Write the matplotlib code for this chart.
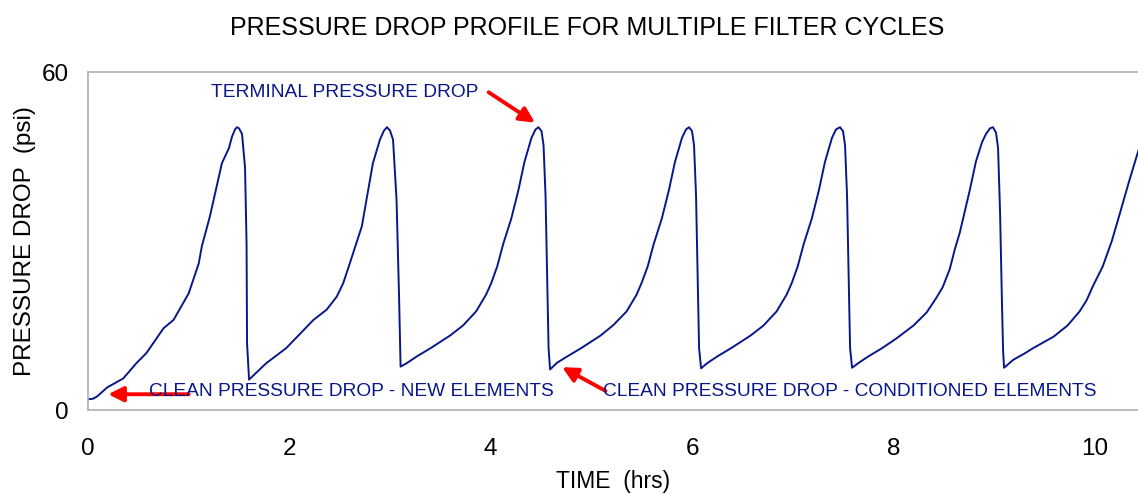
"""Pressure drop profile for multiple filter cycles."""

import matplotlib
matplotlib.use('Agg')
from matplotlib import pyplot as plt

plt.rcParams['font.family'] = ['Liberation Sans', 'DejaVu Sans']

NAVY = '#08178a'

time_hrs = [
    0.00, 0.05, 0.09, 0.19, 0.35, 0.48, 0.58, 0.75, 0.85, 1.00, 1.10, 1.13,
    1.21, 1.33, 1.40, 1.43, 1.46, 1.48, 1.50, 1.53, 1.56, 1.575, 1.58, 1.60,
    1.77, 1.97, 2.24, 2.37, 2.47, 2.535, 2.60, 2.72, 2.83, 2.90, 2.94, 2.97,
    3.00, 3.03, 3.065, 3.09, 3.10, 3.105,
    3.165, 3.265, 3.405, 3.595, 3.725, 3.855, 3.955, 4.005, 4.065, 4.125,
    4.205, 4.275, 4.335, 4.405, 4.445, 4.475, 4.505, 4.525, 4.545, 4.565,
    4.575, 4.59,
    4.66, 4.76, 4.90, 5.09, 5.22, 5.35, 5.45, 5.50, 5.56, 5.62, 5.70, 5.77,
    5.83, 5.90, 5.94, 5.97, 6.00, 6.02, 6.04, 6.06, 6.07, 6.09,
    6.15, 6.25, 6.39, 6.58, 6.71, 6.84, 6.94, 6.99, 7.05, 7.11, 7.19, 7.26,
    7.32, 7.39, 7.43, 7.47, 7.50, 7.52, 7.54, 7.56, 7.57, 7.59,
    7.65, 7.75, 7.89, 8.03, 8.20, 8.33, 8.43, 8.49, 8.56, 8.61, 8.66, 8.76,
    8.82, 8.88, 8.92, 8.96, 8.99, 9.02, 9.04, 9.06, 9.08, 9.09, 9.10,
    9.19, 9.30, 9.39, 9.59, 9.73, 9.85, 9.92, 9.98, 10.08, 10.17, 10.25,
    10.34, 10.45,
]
pressure_psi = [
    1.9, 2.0, 2.4, 4.0, 5.6, 8.3, 10.1, 14.5, 16.0, 20.7, 26.0, 29.0,
    34.3, 43.8, 46.5, 48.5, 49.8, 50.2, 50.0, 49.0, 43.0, 29.6, 11.8, 5.4,
    8.3, 11.0, 16.0, 17.8, 20.1, 22.5, 26.0, 32.6, 43.8, 48.0, 49.6, 50.2,
    49.6, 48.0, 37.3, 20.0, 11.2, 7.7,
    8.3, 9.5, 11.0, 13.2, 15.0, 17.5, 20.5, 22.5, 25.5, 29.5,
    34.0, 39.0, 44.0, 48.3, 49.8, 50.2, 49.5, 47.0, 38.0, 20.0,
    11.0, 7.2,
    8.4, 9.5, 11.0, 13.2, 15.1, 17.5, 20.5, 22.6, 25.5, 29.5, 34.0, 39.0,
    44.0, 48.3, 49.8, 50.2, 49.5, 47.0, 38.0, 20.0, 11.0, 7.4,
    8.3, 9.5, 11.0, 13.2, 15.0, 17.5, 20.5, 22.5, 25.5, 29.5, 34.0, 39.0,
    44.0, 48.3, 49.8, 50.2, 49.5, 47.0, 38.0, 20.0, 11.0, 7.5,
    8.3, 9.5, 11.0, 12.7, 15.0, 17.3, 20.0, 21.8, 25.0, 28.5, 31.5, 39.1,
    44.1, 47.5, 49.0, 50.0, 50.2, 49.2, 46.5, 35.0, 18.0, 10.5, 7.5,
    8.9, 10.0, 11.0, 13.0, 15.0, 17.5, 19.5, 21.9, 25.5, 30.0, 34.9,
    40.5, 47.0,
]

x_ticks = [0, 2, 4, 6, 8, 10]
y_ticks = [0, 60]


def plot_profile():
    """Draw the pressure drop curve with annotations."""
    fig = plt.figure(figsize=(11.38, 4.94), dpi=100)
    ax = fig.add_axes([88 / 1138, 84 / 494, 1 - 88 / 1138, 338 / 494])
    ax.plot(time_hrs, pressure_psi, color=NAVY, lw=1.4)
    ax.set_xlim(0, 10.43)
    ax.set_ylim(0, 60)
    ax.set_xticks(x_ticks)
    ax.set_yticks(y_ticks)
    ax.tick_params(labelsize=17.5, length=0)
    ax.tick_params(axis='x', pad=20)
    ax.tick_params(axis='y', pad=14)
    for side in ('top', 'left', 'bottom'):
        ax.spines[side].set_color('#b0b0b0')
        ax.spines[side].set_linewidth(1.2)
    ax.spines['right'].set_visible(False)
    ax.set_ylabel('PRESSURE DROP  (psi)', fontsize=17.5, labelpad=4)
    fig.text(613 / 1138, 1 - 481 / 494, 'TIME  (hrs)', fontsize=16.5,
             ha='center', va='center')
    fig.text(587 / 1138, 1 - 28 / 494, 'PRESSURE DROP PROFILE FOR MULTIPLE FILTER CYCLES',
             ha='center', va='center', fontsize=18)

    arrow = dict(arrowstyle='-|>,head_length=0.9,head_width=0.45',
                 color='red', lw=2.8, shrinkA=0, shrinkB=0)
    ax.annotate('', xy=(4.44, 51.0), xytext=(3.98, 56.4), arrowprops=arrow)
    ax.annotate('', xy=(0.2, 2.8), xytext=(1.0, 2.8), arrowprops=arrow)
    ax.annotate('', xy=(4.71, 7.6), xytext=(5.14, 3.4), arrowprops=arrow)

    ax.text(1.22, 56.3, 'TERMINAL PRESSURE DROP', color=NAVY, fontsize=13.8,
            va='center', ha='left')
    ax.text(0.61, 3.2, 'CLEAN PRESSURE DROP - NEW ELEMENTS', color=NAVY,
            fontsize=13.8, va='center', ha='left')
    ax.text(5.12, 3.2, 'CLEAN PRESSURE DROP - CONDITIONED ELEMENTS', color=NAVY,
            fontsize=13.8, va='center', ha='left')
    fig.savefig('out.png', dpi=100)


def main():
    """Build the chart."""
    plot_profile()


if __name__ == '__main__':
    main()
